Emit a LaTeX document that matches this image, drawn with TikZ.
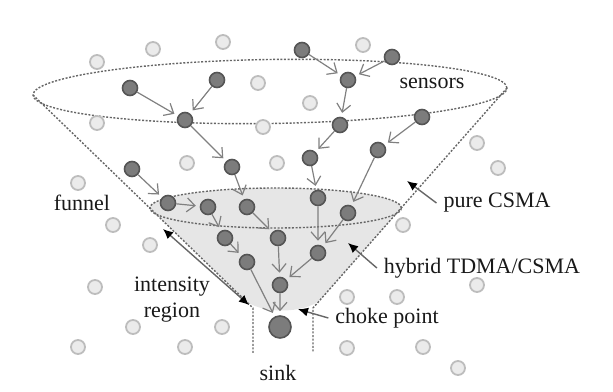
\documentclass[tikz,border=0pt]{standalone}
\usepackage{fontspec}
\setmainfont{Liberation Serif}
\usetikzlibrary{arrows.meta}
\definecolor{nodegray}{HTML}{7C7C7C}
\definecolor{nodeedge}{HTML}{555555}
\definecolor{idlegray}{HTML}{EBEBEB}
\definecolor{idleedge}{HTML}{BDBDBD}
\definecolor{linkgray}{HTML}{808080}
\definecolor{zonegray}{HTML}{E6E6E6}

\begin{document}
\begin{tikzpicture}[scale=.703,>={Straight Barb[length=4pt,width=7pt]},
 sensor/.style={circle,fill=nodegray,draw=nodeedge,line width=.8pt,inner sep=0pt,minimum size=7.5pt},
 idle/.style={circle,fill=idlegray,draw=idleedge,line width=.9pt,inner sep=0pt,minimum size=7pt},
 link/.style={->,linkgray,line width=.6pt,shorten >=2pt},
 rim/.style={black!60,line width=.7pt,dash pattern=on 1pt off .8pt},
 note/.style={-{Latex[length=5pt,width=4.5pt,color=black]},black!60,line width=.7pt},
 lbl/.style={font=\fontsize{11}{13}\selectfont,text=black!90}]
 \useasboundingbox (0,0) rectangle (15.325,9.8);
 % shaded part of the funnel
 \fill[zonegray] (3.745,4.6) arc[start angle=180,end angle=0,x radius=3.145,y radius=.5]
   -- (8.0,2.3) .. controls (7.6,1.95) and (6.5,1.95) .. (6.118,2.3) -- cycle;
 \draw[rim,rotate around={.85:(6.75,7.5125)}] (6.75,7.5125) ellipse[x radius=5.925,y radius=.8];
 \draw[rim] (6.89,4.6) ellipse[x radius=3.145,y radius=.5];
 \draw[rim] (.826,7.425) -- (6.325,2.1) -- (6.325,.975);
 \draw[rim] (12.674,7.6) -- (7.825,2.1) -- (7.825,.975);
 % idle nodes
 \foreach \x/\y [count=\i] in {2.425/8.25,3.825/8.575,5.575/8.75,9.075/8.675,6.45/7.725,
   7.75/7.225,2.425/6.725,6.575/6.625,4.675/5.725,6.925/5.725,1.95/5.225,11.925/6.225,
   12.45/5.6,2.825/4.175,3.75/3.675,2.375/2.625,3.325/1.625,5.55/1.625,1.95/1.125,
   4.625/1.125,10.075/4.175,11.925/2.675,8.675/2.375,9.925/2.375,8.675/1.1,10.575/1.125,
   11.45/.6}
   \node[idle] (b\i) at (\x,\y) {};
 % sensors
 \node[sensor] (a) at (7.55,8.55) {};
 \node[sensor] (b) at (9.8,8.375) {};
 \node[sensor] (c) at (8.7,7.8) {};
 \node[sensor] (d) at (5.425,7.8) {};
 \node[sensor] (e) at (3.25,7.6) {};
 \node[sensor] (f) at (4.625,6.8) {};
 \node[sensor] (g) at (8.5,6.675) {};
 \node[sensor] (h) at (10.55,6.875) {};
 \node[sensor] (i) at (5.8,5.625) {};
 \node[sensor] (j) at (7.75,5.85) {};
 \node[sensor] (k) at (9.45,6.05) {};
 \node[sensor] (l) at (3.3,5.575) {};
 \node[sensor] (m) at (4.2,4.725) {};
 \node[sensor] (n) at (5.2,4.625) {};
 \node[sensor] (o) at (6.175,4.625) {};
 \node[sensor] (p) at (7.95,4.85) {};
 \node[sensor] (q) at (8.7,4.475) {};
 \node[sensor] (r) at (5.625,3.85) {};
 \node[sensor] (s) at (6.95,3.85) {};
 \node[sensor] (t) at (7.95,3.475) {};
 \node[sensor] (u) at (6.175,3.25) {};
 \node[sensor] (v) at (7,2.675) {};
 \node[sensor,minimum size=11pt] (sink) at (7,1.625) {};
 % forwarding
 \foreach \from/\to in {e/f,d/f,f/i,a/c,b/c,c/g,g/j,h/k,i/o,j/p,k/q,l/m,m/n,
   n/r,o/s,p/t,q/t,r/u,s/v,t/v,u/sink,v/sink}
   \draw[link] (\from) -- (\to);
 % labels
 \node[lbl] (sens) at (10.8,7.725) {sensors};
 \node[lbl] (pure) at (12.425,4.725) {pure CSMA};
 \node[lbl] (hyb) at (12.05,3.1) {hybrid TDMA/CSMA};
 \node[lbl] (choke) at (9.675,1.85) {choke point};
 \node[lbl] (fun) at (2.05,4.725) {funnel};
 \node[lbl,align=center] (inten) at (4.3,2.3) {intensity\\region};
 \node[lbl] (sinklbl) at (6.95,.475) {sink};
 \coordinate (pureTip) at (10.175,5.275);
 \coordinate (hybTip) at (8.7,3.725);
 \coordinate (chokeTip) at (7.45,2.07);
 \coordinate (intTop) at (4.075,4.075);
 \coordinate (intBot) at (6.225,2.175);
 \draw[note] (pure.west) -- (pureTip);
 \draw[note] (hyb.west) -- (hybTip);
 \draw[note] (choke.west) -- (chokeTip);
 \draw[note,{Latex[length=5pt,width=4.5pt,color=black]}-{Latex[length=5pt,width=4.5pt,color=black]}] (intTop) -- (intBot);
\end{tikzpicture}
\end{document}
